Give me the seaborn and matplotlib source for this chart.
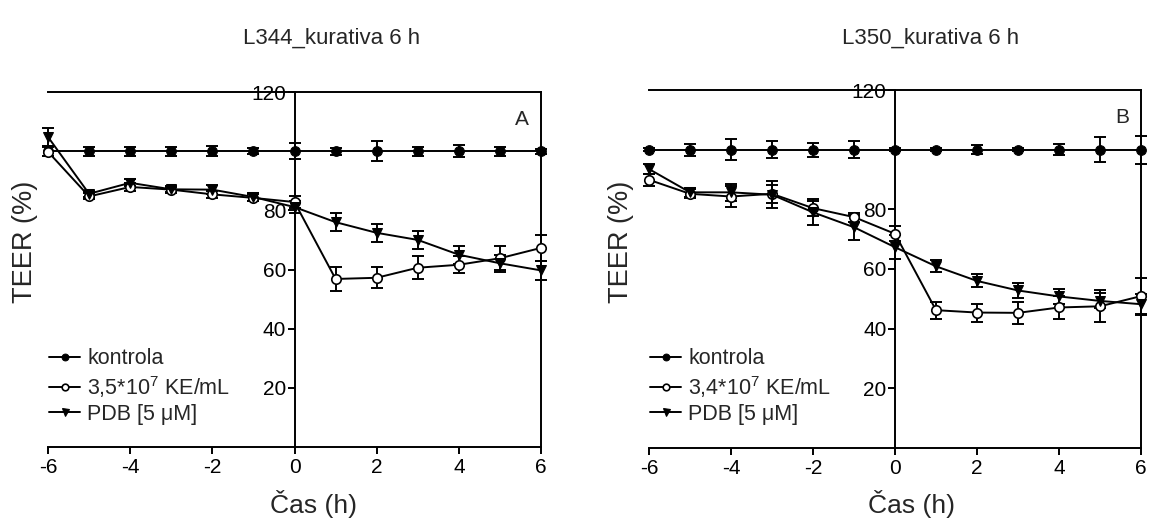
import numpy as np
import pandas as pd
import matplotlib
matplotlib.use("Agg")
import matplotlib.pyplot as plt
import seaborn as sns

sns.set_style("ticks")
plt.rcParams["font.family"] = ["Liberation Sans", "DejaVu Sans"]
plt.rcParams["mathtext.fontset"] = "custom"
plt.rcParams["mathtext.rm"] = "Liberation Sans"
plt.rcParams["mathtext.default"] = "regular"
plt.rcParams["axes.unicode_minus"] = False

# Time points (h)
time_h = [-6, -5, -4, -3, -2, -1, 0, 1, 2, 3, 4, 5, 6]

# Panel A: L344
a_kontrola = [100, 100, 100, 100, 100, 100, 100, 100, 100, 100, 100, 100, 100]
a_kontrola_err = [1.7, 1.5, 1.5, 1.5, 1.8, 1.0, 2.7, 1.2, 3.4, 1.5, 2.0, 1.5, 0.8]
a_bakterie = [99.8, 84.7, 87.9, 87.0, 85.4, 84.2, 82.8, 56.8, 57.2, 60.6, 61.6, 63.8, 67.3]
a_bakterie_err = [1.5, 1.0, 1.2, 1.0, 1.2, 1.2, 2.0, 4.0, 3.6, 3.8, 2.9, 4.0, 4.4]
a_pdb = [104.8, 85.6, 89.3, 87.1, 87.0, 84.5, 81.1, 76.0, 72.4, 70.0, 65.0, 62.1, 59.7]
a_pdb_err = [3.0, 1.0, 1.2, 1.0, 1.5, 1.5, 2.0, 3.0, 3.0, 3.0, 3.1, 2.8, 3.3]

# Panel B: L350
b_kontrola = [100, 100, 100, 100, 100, 100, 100, 100, 100, 100, 100, 100, 100]
b_kontrola_err = [0.5, 2.0, 3.5, 2.9, 2.3, 2.8, 0.5, 0.5, 1.5, 0.5, 1.8, 4.3, 4.7]
b_bakterie = [89.9, 85.2, 84.3, 85.2, 80.4, 77.4, 71.8, 46.2, 45.4, 45.3, 47.1, 47.5, 50.9]
b_bakterie_err = [2.0, 1.5, 3.4, 3.0, 2.5, 1.5, 2.5, 2.8, 3.0, 3.7, 4.0, 5.4, 6.0]
b_pdb = [93.5, 85.7, 85.7, 84.9, 79.0, 74.0, 67.3, 60.9, 56.0, 52.8, 50.8, 49.3, 48.2]
b_pdb_err = [1.7, 1.5, 2.8, 4.6, 4.4, 4.2, 4.0, 2.0, 2.2, 2.5, 2.5, 2.5, 3.5]

panel_titles = ["L344_kurativa 6 h", "L350_kurativa 6 h"]
panel_letters = ["A", "B"]
series_names = [
    ["kontrola", "3,5*10$^{7}$ KE/mL", "PDB [5 \u03bcM]"],
    ["kontrola", "3,4*10$^{7}$ KE/mL", "PDB [5 \u03bcM]"],
]
x_ticks = [-6, -4, -2, 0, 2, 4, 6]
y_ticks = [20, 40, 60, 80, 120]

panels = [
    [(a_kontrola, a_kontrola_err), (a_bakterie, a_bakterie_err), (a_pdb, a_pdb_err)],
    [(b_kontrola, b_kontrola_err), (b_bakterie, b_bakterie_err), (b_pdb, b_pdb_err)],
]

marker_styles = [
    dict(marker="o", markersize=7, markerfacecolor="black", markeredgecolor="black"),
    dict(marker="o", markersize=6.8, markerfacecolor="white", markeredgecolor="black",
         markeredgewidth=1.2),
    dict(marker="v", markersize=7.2, markerfacecolor="black", markeredgecolor="black"),
]

fig = plt.figure(figsize=(11.49, 5.19), dpi=100)
axes_rects = [
    [48 / 1149, 72 / 519, 493 / 1149, 355 / 519],
    [649 / 1149, 71 / 519, 492 / 1149, 358 / 519],
]
title_x = [332 / 1149, 931 / 1149]
ylabel_x = [25 / 1149, 621 / 1149]
xlabel_x = [313 / 1149, 912 / 1149]

for p, rect in enumerate(axes_rects):
    ax = fig.add_axes(rect)
    for s, (vals, errs) in enumerate(panels[p]):
        df = pd.DataFrame({"Čas": time_h, "TEER": vals})
        sns.lineplot(data=df, x="Čas", y="TEER", ax=ax, color="black", linewidth=1.4,
                     errorbar=None, clip_on=False, zorder=3, label=series_names[p][s],
                     **marker_styles[s])
        ax.errorbar(time_h, vals, yerr=errs, fmt="none", ecolor="black",
                    elinewidth=1.4, capsize=4.3, capthick=1.4, clip_on=False, zorder=2)

    ax.set_xlim(-6, 6)
    ax.set_ylim(0, 120)
    ax.set_xticks(x_ticks)
    ax.set_yticks(y_ticks)
    ax.spines["left"].set_position(("data", 0))
    for sp in ax.spines.values():
        sp.set_linewidth(1.4)
        sp.set_color("black")
    ax.tick_params(axis="both", direction="out", length=5, width=1.4,
                   labelsize=15, colors="black", pad=3)
    ax.tick_params(axis="y", pad=1)
    ax.set_xlabel("")
    ax.set_ylabel("")

    ax.legend(loc="upper left", bbox_to_anchor=(0.003, 0.278), frameon=False,
              fontsize=15.5, handlelength=1.4, handletextpad=0.35,
              labelspacing=0.2, borderaxespad=0, borderpad=0, markerscale=0.7)

    ax.text(0.962, 0.923, panel_letters[p], transform=ax.transAxes, fontsize=15,
            ha="center", va="center")

    fig.text(title_x[p], 1 - 38 / 519, panel_titles[p], fontsize=16, ha="center",
             va="center")
    fig.text(ylabel_x[p], 1 - 242 / 519, "TEER (%)", fontsize=19.5, rotation=90,
             ha="center", va="center")
    fig.text(xlabel_x[p], 1 - 504 / 519, "Čas (h)", fontsize=19, ha="center",
             va="center")

fig.savefig("out.png", dpi=100)
